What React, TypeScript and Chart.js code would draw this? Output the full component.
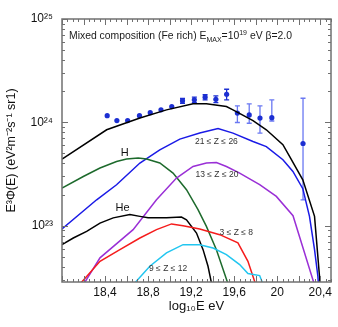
import React, { useEffect, useRef } from 'react';
import { Chart, registerables } from 'chart.js';

Chart.register(...registerables);

const FONT = '"Liberation Sans", Arial, Helvetica, sans-serif';

// ---- Axis ranges & tick labels ----
const xMin = 18.0;
const xMax = 20.5;
const yMin = 2.85e22;
const yMax = 1.0e25;
const xTickValues = [18.4, 18.8, 19.2, 19.6, 20.0, 20.4];
const xTickLabels = ['18,4', '18,8', '19,2', '19,6', '20', '20,4'];
const yTickValues = [1e23, 1e24, 1e25];
const yTickLabels = ['10²³', '10²⁴', '10²⁵'];

// ---- Measured data points (log10 E, E^3 flux) ----
const obsX = [18.42, 18.51, 18.61, 18.72, 18.82, 18.92, 19.02, 19.12, 19.23, 19.33, 19.43, 19.53, 19.63, 19.74, 19.84, 19.95, 20.24];
const obsY = [1.16e24, 1.04e24, 1.04e24, 1.16e24, 1.24e24, 1.32e24, 1.42e24, 1.62e24, 1.65e24, 1.75e24, 1.67e24, 1.87e24, 1.23e24, 1.18e24, 1.1e24, 1.11e24, 6.24e23];
const obsLow = [1.14e24, 1.02e24, 1.02e24, 1.14e24, 1.22e24, 1.3e24, 1.39e24, 1.53e24, 1.55e24, 1.65e24, 1.55e24, 1.65e24, 9.96e23, 9.8e23, 7.87e23, 1.03e24, 1.78e23];
const obsHigh = [1.18e24, 1.06e24, 1.06e24, 1.18e24, 1.26e24, 1.34e24, 1.45e24, 1.7e24, 1.75e24, 1.85e24, 1.8e24, 2.09e24, 1.44e24, 1.51e24, 1.44e24, 1.65e24, 1.71e24];

// ---- Model curves ----
const totalX = [18.0, 18.415, 18.724, 18.971, 19.218, 19.342, 19.528, 19.589, 19.775, 19.899, 20.053, 20.115, 20.238, 20.347, 20.393, 20.41];
const totalY = [4.41e23, 8.47e23, 1.1e24, 1.32e24, 1.51e24, 1.51e24, 1.42e24, 1.32e24, 1.04e24, 8.47e23, 6.07e23, 4.68e23, 2.78e23, 1.23e23, 3.24e22, 2.0e22];

const feX = [18.0, 18.322, 18.507, 18.724, 18.909, 19.095, 19.28, 19.45, 19.589, 19.775, 19.899, 20.053, 20.146, 20.238, 20.3, 20.347, 20.378, 20.39];
const feY = [9.29e22, 1.78e23, 2.49e23, 4.04e23, 5.42e23, 6.88e23, 7.87e23, 8.72e23, 7.87e23, 6.52e23, 5.83e23, 4.35e23, 3.35e23, 2.28e23, 1.23e23, 5.86e22, 3.24e22, 2.2e22];

const hX = [18.0, 18.198, 18.353, 18.507, 18.6, 18.708, 18.786, 18.909, 19.032, 19.157, 19.264, 19.342, 19.435, 19.55];
const hY = [2.31e23, 2.99e23, 3.61e23, 4.18e23, 4.41e23, 4.51e23, 4.41e23, 4.04e23, 3.23e23, 2.23e23, 1.43e23, 9.84e22, 5.86e22, 2.6e22];

const caX = [18.19, 18.353, 18.661, 18.878, 19.064, 19.218, 19.342, 19.435, 19.528, 19.651, 19.837, 19.992, 20.147, 20.355];
const caY = [2.6e22, 4.88e22, 9.15e22, 1.78e23, 2.89e23, 3.74e23, 4.04e23, 4.09e23, 3.74e23, 3.23e23, 2.49e23, 1.92e23, 1.25e23, 2.5e22];

const heX = [18.0, 18.105, 18.229, 18.353, 18.476, 18.631, 18.724, 18.8, 18.971, 19.11, 19.157, 19.25, 19.311, 19.357, 19.395];
const heY = [6.55e22, 7.6e22, 8.81e22, 1.06e23, 1.19e23, 1.28e23, 1.23e23, 1.19e23, 1.19e23, 1.21e23, 1.14e23, 8.49e22, 5.86e22, 4.05e22, 2.6e22];

const cnoX = [18.15, 18.353, 18.538, 18.724, 18.878, 19.018, 19.125, 19.28, 19.466, 19.635, 19.728, 19.805];
const cnoY = [2.6e22, 4.52e22, 5.86e22, 7.6e22, 9.15e22, 1.04e23, 1.0e23, 9.29e22, 8.18e22, 6.81e22, 4.52e22, 2.6e22];

const mgX = [18.65, 18.816, 18.971, 19.125, 19.28, 19.404, 19.528, 19.651, 19.728, 19.837, 19.875];
const mgY = [2.6e22, 4.05e22, 5.45e22, 6.55e22, 6.55e22, 6.08e22, 5.25e22, 4.2e22, 3.44e22, 3.29e22, 2.6e22];

// ---- Curve labels ----
const curveLabelText = ['H', 'He', '21 ≤ Z ≤ 26', '13 ≤ Z ≤ 20', '3 ≤ Z ≤ 8', '9 ≤ Z ≤ 12'];
const curveLabelX = [18.584, 18.563, 19.435, 19.44, 19.62, 18.986];
const curveLabelY = [5.1e23, 1.48e23, 6.52e23, 3.11e23, 8.61e22, 3.82e22];

const zip = (xs: number[], ys: number[]) => xs.map((x, i) => ({ x, y: ys[i] }));

const decorPlugin = {
  id: 'decor',
  beforeDatasetsDraw(chart: any) {
    const { ctx, scales } = chart;
    const xs = scales.x;
    const ys = scales.y;
    ctx.save();
    ctx.beginPath();
    ctx.rect(chart.chartArea.left, chart.chartArea.top, chart.chartArea.right - chart.chartArea.left, chart.chartArea.bottom - chart.chartArea.top);
    ctx.clip();
    ctx.lineWidth = 1.3;
    obsX.forEach((xv, i) => {
      const px = xs.getPixelForValue(xv);
      const p1 = ys.getPixelForValue(obsLow[i]);
      const p2 = ys.getPixelForValue(obsHigh[i]);
      ctx.strokeStyle = i >= 12 ? '#6a78f2' : '#1c2fd2';
      ctx.beginPath();
      ctx.moveTo(px, p1);
      ctx.lineTo(px, p2);
      if (i >= 7) {
        ctx.moveTo(px - 2.5, p1);
        ctx.lineTo(px + 2.5, p1);
        ctx.moveTo(px - 2.5, p2);
        ctx.lineTo(px + 2.5, p2);
      }
      ctx.stroke();
    });
    ctx.restore();
  },
  afterDatasetsDraw(chart: any) {
    const { ctx, scales } = chart;
    const xs = scales.x;
    const ys = scales.y;
    ctx.save();
    ctx.textAlign = 'center';
    ctx.textBaseline = 'middle';
    curveLabelText.forEach((t, i) => {
      const big = i < 2;
      ctx.font = `${big ? 11 : 8.5}px ${FONT}`;
      ctx.fillStyle = big ? '#111' : '#333';
      ctx.fillText(t, xs.getPixelForValue(curveLabelX[i]), ys.getPixelForValue(curveLabelY[i]));
    });
    ctx.restore();
  },
  afterDraw(chart: any) {
    const { ctx, chartArea, scales } = chart;
    const { left, right, top, bottom } = chartArea;
    const xs = scales.x;
    const ys = scales.y;
    ctx.save();
    ctx.strokeStyle = '#707070';
    ctx.lineWidth = 1.5;
    ctx.strokeRect(left, top, right - left, bottom - top);
    ctx.lineWidth = 1;
    ctx.beginPath();
    for (let k = 0; k <= 50; k++) {
      const v = xMin + k * 0.05;
      if (v > xMax + 1e-9) break;
      const px = Math.round(xs.getPixelForValue(v)) + 0.5;
      const len = k % 4 === 0 ? 6 : 3;
      ctx.moveTo(px, bottom);
      ctx.lineTo(px, bottom - len);
      ctx.moveTo(px, top);
      ctx.lineTo(px, top + len);
    }
    for (let e = 22; e <= 25; e++) {
      for (let m = 1; m <= 9; m++) {
        const v = m * Math.pow(10, e);
        if (v < yMin || v > yMax * 1.0001) continue;
        const py = Math.round(ys.getPixelForValue(v)) + 0.5;
        const len = m === 1 ? 6 : 3;
        ctx.moveTo(left, py);
        ctx.lineTo(left + len, py);
        ctx.moveTo(right, py);
        ctx.lineTo(right - len, py);
      }
    }
    ctx.stroke();

    // title text with sub/superscripts
    ctx.fillStyle = '#1a1a1a';
    ctx.textBaseline = 'alphabetic';
    ctx.textAlign = 'left';
    let cx = left + 7;
    const by = top + 20;
    const part = (t: string, size: number, dy: number) => {
      ctx.font = `${size}px ${FONT}`;
      ctx.fillText(t, cx, by + dy);
      cx += ctx.measureText(t).width;
    };
    part('Mixed composition (Fe rich) E', 10.4, 0);
    part('MAX', 7, 2.5);
    part('=10', 10.4, 0);
    part('19', 7, -4.5);
    part(' eV β=2.0', 10.4, 0);
    ctx.restore();
  },
};

export default function App() {
  const ref = useRef<HTMLCanvasElement | null>(null);

  useEffect(() => {
    if (!ref.current) return;
    const line = (xs: number[], ys: number[], color: string) => ({
      type: 'line' as const,
      data: zip(xs, ys),
      borderColor: color,
      backgroundColor: color,
      borderWidth: 1.5,
      pointRadius: 0,
      tension: 0,
      fill: false,
    });
    const chart = new Chart(ref.current, {
      type: 'line',
      data: {
        datasets: [
          line(mgX, mgY, '#22c6f0'),
          line(cnoX, cnoY, '#f51c1c'),
          line(heX, heY, '#000000'),
          line(caX, caY, '#9a2fd6'),
          line(hX, hY, '#1d6a2c'),
          line(feX, feY, '#1a1ae6'),
          line(totalX, totalY, '#000000'),
          {
            type: 'scatter' as const,
            data: zip(obsX, obsY),
            borderColor: '#1c2fd2',
            backgroundColor: '#1c2fd2',
            pointRadius: 2.6,
            pointBorderWidth: 0,
            showLine: false,
          } as any,
        ],
      },
      options: {
        animation: false,
        responsive: false,
        devicePixelRatio: 1,
        layout: { padding: { top: 19, right: 7, bottom: 0, left: 0 } },
        plugins: { legend: { display: false }, tooltip: { enabled: false } },
        scales: {
          x: {
            type: 'linear',
            min: xMin,
            max: xMax,
            grid: { display: false, drawTicks: false, tickLength: 0 },
            border: { display: false },
            afterBuildTicks: (s: any) => {
              s.ticks = xTickValues.map((v) => ({ value: v }));
            },
            afterFit: (s: any) => {
              s.height = 45;
            },
            ticks: {
              autoSkip: false,
              maxRotation: 0,
              padding: 3,
              color: '#111',
              font: { family: FONT, size: 12 },
              callback: (_v: any, i: number) => xTickLabels[i],
            },
            title: {
              display: true,
              text: 'log₁₀E eV',
              color: '#111',
              font: { family: FONT, size: 13 },
              padding: { top: 0, bottom: 13 },
            },
          },
          y: {
            type: 'logarithmic',
            min: yMin,
            max: yMax,
            grid: { display: false, drawTicks: false, tickLength: 0 },
            border: { display: false },
            afterBuildTicks: (s: any) => {
              s.ticks = yTickValues.map((v) => ({ value: v }));
            },
            afterFit: (s: any) => {
              s.width = 62;
            },
            ticks: {
              autoSkip: false,
              padding: 9,
              color: '#111',
              font: { family: FONT, size: 12 },
              callback: (_v: any, i: number) => yTickLabels[i],
            },
            title: {
              display: true,
              text: 'E³Φ(E) (eV²m⁻²s⁻¹ sr1)',
              color: '#111',
              font: { family: FONT, size: 12.5 },
              padding: { top: 4, bottom: 0 },
            },
          },
        },
      },
      plugins: [decorPlugin],
    } as any);
    return () => chart.destroy();
  }, []);

  return (
    <div style={{ position: 'fixed', left: 0, top: 0, width: 338, height: 327, background: '#fff' }}>
      <canvas ref={ref} width={338} height={327} style={{ width: 338, height: 327, display: 'block' }} />
    </div>
  );
}
